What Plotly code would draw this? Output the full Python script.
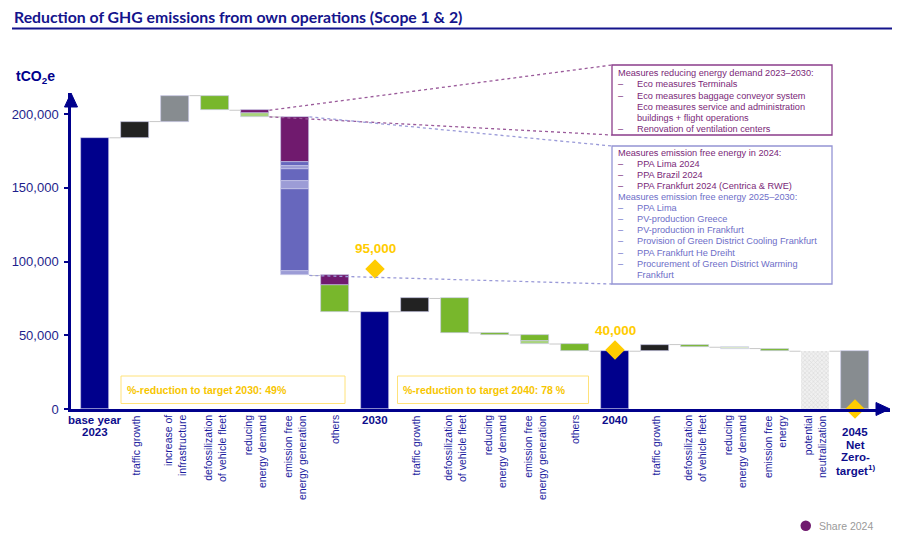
import plotly.graph_objects as go

# ---------------- data ----------------
categories = [
    "base year<br>2023", "traffic growth", "increase of<br>infrastructure",
    "defossilization<br>of vehicle fleet", "reducing<br>energy demand",
    "emission free<br>energy generation", "others", "2030",
    "traffic growth", "defossilization<br>of vehicle fleet", "reducing<br>energy demand",
    "emission free<br>energy generation", "others", "2040",
    "traffic growth", "defossilization<br>of vehicle fleet", "reducing<br>energy demand",
    "emission free<br>energy", "potential<br>neutralization",
    "<br>2045<br>Net<br>Zero-<br>target<sup>1)</sup>",
]
kinds = ["start", "step", "step", "step", "step", "step", "step", "total",
         "step", "step", "step", "step", "step", "total",
         "step", "step", "step", "step", "offset", "total"]
segment_values = [
    [184000], [11000], [17600], [-9900], [-2000, -2500],
    [-30400, -2900, -2200, -7700, -5800, -55900, -2700],
    [-6800, -17800], [], [9000], [-23400], [-1400], [-3900, -2200], [-4900], [],
    [4500], [-1800], [-900], [-1800], [], [],
]
segment_types = [
    ["total"], ["traffic"], ["infrastructure"], ["measure"], ["share_2024", "measure_light"],
    ["share_2024", "green_a", "green_b", "green_a", "green_b", "green_a", "green_b"],
    ["share_2024", "measure"], ["total"], ["traffic"], ["measure"], ["measure"],
    ["measure", "measure_light"], ["measure"], ["total"],
    ["traffic"], ["measure"], ["measure_faint"], ["measure"], ["neutralization"], ["residual"],
]
target_positions = [7, 13, 19]
target_values = [95000, 40000, 0]
target_labels = ["95,000", "40,000", ""]
reduction_texts = ["%-reduction to target 2030: 49%", "%-reduction to target 2040: 78 %"]
y_ticks = [0, 50000, 100000, 150000, 200000]

box1_lines = [
    ("", "Measures reducing energy demand 2023–2030:"),
    ("–", "Eco measures Terminals"),
    ("–", "Eco measures baggage conveyor system"),
    ("", "    Eco measures service and administration"),
    ("", "    buildings + flight operations"),
    ("–", "Renovation of ventilation centers"),
]
box2_lines_2024 = [
    ("", "Measures emission free energy in 2024:"),
    ("–", "PPA Lima 2024"),
    ("–", "PPA Brazil 2024"),
    ("–", "PPA Frankfurt 2024 (Centrica & RWE)"),
]
box2_lines_later = [
    ("", "Measures emission free energy 2025–2030:"),
    ("–", "PPA Lima"),
    ("–", "PV-production Greece"),
    ("–", "PV-production in Frankfurt"),
    ("–", "Provision of Green District Cooling Frankfurt"),
    ("–", "PPA Frankfurt He Dreiht"),
    ("–", "Procurement of Green District Warming"),
    ("", "    Frankfurt"),
]

# ---------------- styles ----------------
NAVY = "#00008c"
LABEL_BLUE = "#1c1c9e"
GOLD = "#ffcc00"
PURPLE_TXT = "#7a2878"
BLUE_TXT = "#6e6ec8"
FONT = "Liberation Sans, Arial, sans-serif"
colors = {
    "total": NAVY, "traffic": "#222222", "infrastructure": "#878c90",
    "measure": "#78b72c", "measure_light": "#a9d47c", "measure_faint": "#dcebc8",
    "share_2024": "#701a6e", "green_a": "#6767bd", "green_b": "#9c9cd6",
    "neutralization": "#eeeeee", "residual": "#878c90",
}
BAR_W = 0.72

# the page body has an 8px margin: positions below are window pixels, shifted by OFF
OFF = 8
FIG_W, FIG_H = 900 - OFF, 538 - OFF
L, R, T, B = 71 - OFF, 10, 93 - OFF, 129
W, H = FIG_W - L - R, FIG_H - T - B
X0, X1 = -0.6, 19.875
Y1 = 214400


def px(x):
    return (x - OFF - L) / W


def py(y):
    return (T + H - (y - OFF)) / H


def xd(i):
    return (i - X0) / (X1 - X0)


def yd(v):
    return v / Y1


# ---------------- waterfall computation ----------------
segs = {k: {"x": [], "base": [], "h": []} for k in colors}
level = 0
level_after = []
bar_top = []
bar_bot = []
for i, kind in enumerate(kinds):
    if kind == "start":
        level = segment_values[i][0]
        lo, hi = 0, level
        segs[segment_types[i][0]]["x"].append(i)
        segs[segment_types[i][0]]["base"].append(0)
        segs[segment_types[i][0]]["h"].append(level)
    elif kind in ("total", "offset"):
        lo, hi = 0, level
        segs[segment_types[i][0]]["x"].append(i)
        segs[segment_types[i][0]]["base"].append(0)
        segs[segment_types[i][0]]["h"].append(level)
    else:
        start = level
        for v, t in zip(segment_values[i], segment_types[i]):
            a, b = level, level + v
            segs[t]["x"].append(i)
            segs[t]["base"].append(min(a, b))
            segs[t]["h"].append(abs(v))
            level = b
        lo, hi = min(start, level), max(start, level)
    bar_top.append(hi)
    bar_bot.append(lo)
    level_after.append(level)

fig = go.Figure()
for key, d in segs.items():
    if not d["x"]:
        continue
    marker = dict(color=colors[key], line=dict(color="rgba(200,200,232,0.9)", width=0.7))
    if key == "neutralization":
        marker = dict(color="#f0f0f0",
                      pattern=dict(shape="x", fgcolor="#c2c2c2", bgcolor="#f0f0f0", size=3, solidity=0.35),
                      line=dict(width=0))
    fig.add_trace(go.Bar(x=d["x"], y=d["h"], base=d["base"], width=BAR_W,
                         marker=marker, showlegend=False, hoverinfo="skip"))

# connectors
cx, cy = [], []
for i in range(len(categories) - 1):
    cx += [i + BAR_W / 2, i + 1 - BAR_W / 2, None]
    cy += [level_after[i], level_after[i], None]
fig.add_trace(go.Scatter(x=cx, y=cy, mode="lines", line=dict(color="#c8c8c8", width=1),
                         showlegend=False, hoverinfo="skip"))

# targets
fig.add_trace(go.Scatter(
    x=target_positions, y=target_values, mode="markers", cliponaxis=False,
    marker=dict(symbol="diamond", size=15, color=GOLD, line=dict(width=0)),
    showlegend=False, hoverinfo="skip"))

shapes = []
annotations = []

for xp_, yv, lab in zip(target_positions, target_values, target_labels):
    if lab:
        annotations.append(dict(xref="x", yref="y", x=xp_, y=yv, yshift=20, xanchor="center", yanchor="middle",
                                text=f"<b>{lab}</b>", showarrow=False,
                                font=dict(family=FONT, size=13.5, color=GOLD)))

# title + underline
annotations.append(dict(xref="paper", yref="paper", x=px(12), y=py(16.5), xanchor="left", yanchor="middle",
                        text="<b>Reduction of GHG emissions from own operations (Scope 1 & 2)</b>",
                        showarrow=False, font=dict(family="Lato, sans-serif", size=15.8, color="#14148c")))
shapes.append(dict(type="line", xref="paper", yref="paper", x0=px(12), x1=px(900), y0=py(28.5), y1=py(28.5),
                   line=dict(color="#14148c", width=2)))

# unit label
annotations.append(dict(xref="paper", yref="paper", x=px(14), y=py(77), xanchor="left", yanchor="middle",
                        text="<b>tCO<sub>2</sub>e</b>", showarrow=False,
                        font=dict(family=FONT, size=14, color=NAVY)))

# axis arrowheads
shapes.append(dict(type="path", xref="paper", yref="paper",
                   path=f"M {px(64.5)} {py(107)} L {px(71)} {py(93)} L {px(77.5)} {py(107)} Z",
                   fillcolor=NAVY, line=dict(color=NAVY, width=1)))
shapes.append(dict(type="path", xref="paper", yref="paper",
                   path=f"M {px(876)} {py(402.5)} L {px(890)} {py(409)} L {px(876)} {py(415.5)} Z",
                   fillcolor=NAVY, line=dict(color=NAVY, width=1)))

# x labels
for i, lab in enumerate(categories):
    if kinds[i] in ("start", "total"):
        lines = lab.split("<br>")
        for k, ln in enumerate(lines):
            if not ln:
                continue
            annotations.append(dict(xref="x", yref="paper", x=i, y=py(420 + 12.4 * k),
                                    xanchor="center", yanchor="middle", text=f"<b>{ln}</b>",
                                    showarrow=False, font=dict(family=FONT, size=11.5, color="#0d0d8c")))
    else:
        annotations.append(dict(xref="x", yref="paper", x=i, y=py(413.5), xanchor="center", yanchor="top",
                                text=lab, textangle=-90, align="right", showarrow=False,
                                font=dict(family=FONT, size=10.5, color=LABEL_BLUE)))

# reduction boxes
for (x0, x1, tx), txt in zip([(121, 345, 125), (397.5, 588.5, 400.5)], reduction_texts):
    shapes.append(dict(type="rect", xref="paper", yref="paper", x0=px(x0), x1=px(x1), y0=py(376), y1=py(403.5),
                       line=dict(color="#ffe27a", width=1), fillcolor="rgba(0,0,0,0)"))
    annotations.append(dict(xref="paper", yref="paper", x=px(tx), y=py(390), xanchor="left", yanchor="middle",
                            text=f"<b>{txt}</b>", showarrow=False,
                            font=dict(family=FONT, size=10.5, color="#f7c600")))

# callout boxes
b1 = (612, 832, 65, 135)
b2 = (612, 832, 146, 284)
shapes.append(dict(type="rect", xref="paper", yref="paper", x0=px(b1[0]), x1=px(b1[1]), y0=py(b1[2]), y1=py(b1[3]),
                   line=dict(color="#8b3d8a", width=1.3), fillcolor="white"))
shapes.append(dict(type="rect", xref="paper", yref="paper", x0=px(b2[0]), x1=px(b2[1]), y0=py(b2[2]), y1=py(b2[3]),
                   line=dict(color="#9494d4", width=1.3), fillcolor="white"))
# dotted leader lines (from bar corners, computed from the data)
i_red, i_efe = 4, 5
for yv, ypix in [(bar_top[i_red], b1[2]), (bar_bot[i_red], b1[3])]:
    shapes.append(dict(type="line", xref="paper", yref="paper", x0=xd(i_red + BAR_W / 2), y0=yd(yv),
                       x1=px(b1[0]), y1=py(ypix), line=dict(color="#9a5a9a", width=1.3, dash="dot")))
for yv, ypix in [(bar_top[i_efe], b2[2]), (bar_bot[i_efe], b2[3])]:
    shapes.append(dict(type="line", xref="paper", yref="paper", x0=xd(i_efe + BAR_W / 2), y0=yd(yv),
                       x1=px(b2[0]), y1=py(ypix), line=dict(color="#9a9ad8", width=1.3, dash="dot")))


def add_lines(lines, y_start, color):
    for k, (dash, txt) in enumerate(lines):
        y = py(y_start + 11.1 * k)
        if dash:
            annotations.append(dict(xref="paper", yref="paper", x=px(616), y=y, xanchor="left", yanchor="middle",
                                    text=dash, showarrow=False, font=dict(family=FONT, size=9.2, color=color)))
        stripped = txt.strip()
        xx = 616 if (not dash and txt == stripped) else 635
        annotations.append(dict(xref="paper", yref="paper", x=px(xx), y=y, xanchor="left", yanchor="middle",
                                text=stripped, showarrow=False, font=dict(family=FONT, size=9.2, color=color)))


add_lines(box1_lines, 73.3, PURPLE_TXT)
add_lines(box2_lines_2024, 152.7, PURPLE_TXT)
add_lines(box2_lines_later, 197.1, BLUE_TXT)

# legend
shapes.append(dict(type="circle", xref="paper", yref="paper", x0=px(800.5), x1=px(811), y0=py(520.5), y1=py(531),
                   fillcolor="#701a6e", line=dict(width=0)))
annotations.append(dict(xref="paper", yref="paper", x=px(817), y=py(526), xanchor="left", yanchor="middle",
                        text="Share 2024", showarrow=False, font=dict(family=FONT, size=10.5, color="#9a9a9a")))

fig.update_layout(
    width=FIG_W, height=FIG_H, margin=dict(l=L, r=R, t=T, b=B, autoexpand=False),
    paper_bgcolor="white", plot_bgcolor="white", barmode="overlay", bargap=0,
    showlegend=False, shapes=shapes, annotations=annotations,
    xaxis=dict(range=[X0, X1], showgrid=False, zeroline=False, showticklabels=False, ticks="",
               showline=True, linecolor=NAVY, linewidth=2.5, fixedrange=True),
    yaxis=dict(range=[0, Y1], showgrid=False, zeroline=False, tickvals=y_ticks,
               ticktext=[f"{v:,}" for v in y_ticks], ticks="outside", ticklen=4, tickwidth=2,
               tickcolor=NAVY, showline=True, linecolor=NAVY, linewidth=2.5, automargin=False,
               tickfont=dict(family=FONT, size=13, color="#1e1e8c"), ticklabelstandoff=3, fixedrange=True),
)

fig.write_html("out.html", config={"displayModeBar": False})
